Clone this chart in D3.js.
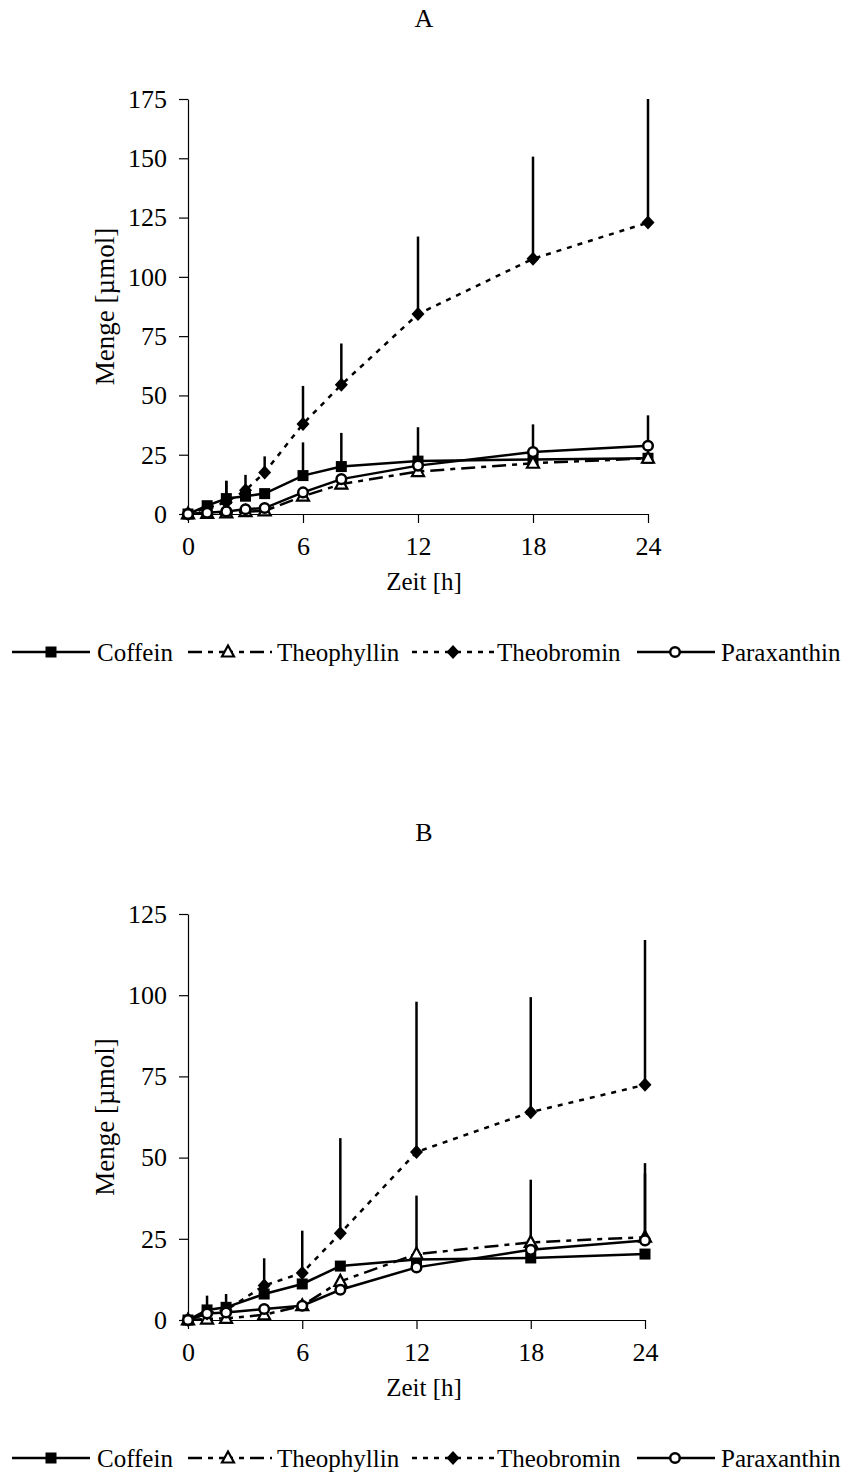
<!DOCTYPE html>
<html>
<head>
<meta charset="utf-8">
<script src="https://cdn.jsdelivr.net/npm/d3@7"></script>
<style>
  html, body { margin: 0; padding: 0; background: #fff; }
  svg { display: block; font-family: "Liberation Serif", "Times New Roman", serif; }
</style>
</head>
<body>
<div id="chart"></div>
<script>
// Ausscheidung der Methylxanthine, Panel A und B
const seriesNames = ["Coffein", "Theophyllin", "Theobromin", "Paraxanthin"];

// Panel A
const timesA = [0, 1, 2, 3, 4, 6, 8, 12, 18, 24];
const coffeinA     = [0, 3.5, 6.5, 7.5, 8.6, 16.2, 20.0, 22.3, 23.0, 23.5];
const theophyllinA = [0, 0.3, 0.5, 1.0, 1.3, 7.5, 12.6, 17.9, 21.4, 23.5];
const theobrominA  = [0, 2.5, 5.0, 10.0, 17.5, 38.0, 54.5, 84.3, 107.6, 122.9];
const paraxanthinA = [0, 0.5, 1.1, 2.0, 2.5, 9.1, 14.7, 20.4, 26.1, 28.8];
// upper error bars (+SD)
const coffeinErrA     = [0, 2, 7.5, 0, 0, 14, 14.2, 14.3, 0, 0];
const theophyllinErrA = [0, 0, 0, 0, 0, 0, 0, 0, 0, 0];
const theobrominErrA  = [0, 2, 9, 6.5, 6.8, 16, 17.4, 32.7, 43.1, 52.1];
const paraxanthinErrA = [0, 0, 0, 0, 0, 0, 0, 0, 11.7, 12.8];
const yTicksA = [0, 25, 50, 75, 100, 125, 150, 175];

// Panel B
const timesB = [0, 1, 2, 4, 6, 8, 12, 18, 24];
const coffeinB     = [0, 3.1, 3.9, 8.0, 11.1, 16.6, 18.6, 19.1, 20.3];
const theophyllinB = [0, 0.3, 0.5, 1.6, 4.4, 11.9, 20.3, 23.9, 25.5];
const theobrominB  = [0, 2.0, 3.0, 10.6, 14.5, 26.7, 51.7, 64.0, 72.4];
const paraxanthinB = [0, 2.0, 2.3, 3.4, 4.4, 9.3, 16.2, 21.6, 24.5];
const coffeinErrB     = [0, 4.4, 4.1, 0, 0, 0, 0, 0, 0];
const theophyllinErrB = [0, 0, 0, 0, 0, 0, 18, 19.3, 22.8];
const theobrominErrB  = [0, 0, 0, 8.4, 13, 29.3, 46.3, 35.4, 44.6];
const paraxanthinErrB = [0, 0, 0, 0, 0, 0, 0, 0, 20.7];
const yTicksB = [0, 25, 50, 75, 100, 125];

const xTicks = [0, 6, 12, 18, 24];

const W = 847, H = 1481;
const TICK_FONT = 26;
const FONT = 25;

// line style per series
const styles = {
  "Coffein":     { dash: null,         marker: "square" },
  "Theophyllin": { dash: "14,6,5,6",   marker: "triangle" },
  "Theobromin":  { dash: "5,6",        marker: "diamond" },
  "Paraxanthin": { dash: null,         marker: "circle" }
};

const svg = d3.select("#chart").append("svg")
  .attr("width", W).attr("height", H);
svg.append("rect").attr("width", W).attr("height", H).attr("fill", "#fff");

function drawMarker(g, type, cx, cy) {
  if (type === "square") {
    g.append("rect").attr("x", cx - 5.5).attr("y", cy - 5.5)
      .attr("width", 11).attr("height", 11).attr("fill", "#000");
  } else if (type === "triangle") {
    g.append("path")
      .attr("d", `M${cx},${cy - 6.5}L${cx + 6},${cy + 4.5}L${cx - 6},${cy + 4.5}Z`)
      .attr("fill", "#fff").attr("stroke", "#000").attr("stroke-width", 2.2);
  } else if (type === "diamond") {
    g.append("path")
      .attr("d", `M${cx},${cy - 7}L${cx + 6.5},${cy}L${cx},${cy + 7}L${cx - 6.5},${cy}Z`)
      .attr("fill", "#000");
  } else if (type === "circle") {
    g.append("circle").attr("cx", cx).attr("cy", cy).attr("r", 4.8)
      .attr("fill", "#fff").attr("stroke", "#000").attr("stroke-width", 2.5);
  }
}

function drawPanel(p) {
  const x = d3.scaleLinear().domain([0, 24]).range([p.left, p.right]);
  const y = d3.scaleLinear().domain([0, p.yMax]).range([p.bottom, p.top]);
  const g = svg.append("g");

  // title
  g.append("text").attr("x", 424).attr("y", p.titleY)
    .attr("text-anchor", "middle").attr("font-size", 26).text(p.title);

  // axes
  const yAxis = g.append("g").attr("transform", `translate(${p.left},0)`)
    .call(d3.axisLeft(y).tickValues(p.yTicks).tickSize(9).tickSizeOuter(0).tickPadding(12));
  const xAxis = g.append("g").attr("transform", `translate(0,${p.bottom})`)
    .call(d3.axisBottom(x).tickValues(xTicks).tickSize(9).tickSizeOuter(0));
  [yAxis, xAxis].forEach(a => {
    a.select(".domain").attr("stroke", "#000").attr("stroke-width", 1.2);
    a.selectAll(".tick line").attr("stroke", "#000").attr("stroke-width", 1.2);
    a.selectAll("text").attr("font-size", TICK_FONT).attr("fill", "#000")
      .attr("font-family", "Liberation Serif, Times New Roman, serif");
  });
  xAxis.selectAll("text").attr("dy", null).attr("y", 41);

  // axis titles
  g.append("text").attr("x", 424).attr("y", p.bottom + 76)
    .attr("text-anchor", "middle").attr("font-size", FONT).text("Zeit [h]");
  g.append("text")
    .attr("transform", `translate(114,${(p.top + p.bottom) / 2}) rotate(-90)`)
    .attr("text-anchor", "middle").attr("font-size", 27).text("Menge [µmol]");

  // series
  const line = d3.line().x(d => x(d.t)).y(d => y(d.v));
  p.series.forEach(s => {
    const pts = p.times.map((t, i) => ({ t, v: s.values[i], e: s.err[i] }));
    const st = styles[s.name];
    g.append("path").datum(pts).attr("d", line)
      .attr("fill", "none").attr("stroke", "#000").attr("stroke-width", 2.5)
      .attr("stroke-dasharray", st.dash);
    g.append("g").selectAll("line").data(pts.filter(d => d.e > 0)).join("line")
      .attr("x1", d => x(d.t)).attr("x2", d => x(d.t))
      .attr("y1", d => y(d.v)).attr("y2", d => y(d.v + d.e))
      .attr("stroke", "#000").attr("stroke-width", 2.5);
    const mg = g.append("g");
    pts.forEach(d => drawMarker(mg, st.marker, x(d.t), y(d.v)));
  });

  // legend
  const leg = [
    { name: "Coffein",     x1: 12,  x2: 90,  mx: 51,  tx: 97 },
    { name: "Theophyllin", x1: 188, x2: 272, mx: 228, tx: 277 },
    { name: "Theobromin",  x1: 412, x2: 494, mx: 453, tx: 497 },
    { name: "Paraxanthin", x1: 637, x2: 715, mx: 675, tx: 721 }
  ];
  const lg = g.append("g");
  leg.forEach(l => {
    const st = styles[l.name];
    lg.append("line").attr("x1", l.x1).attr("x2", l.x2)
      .attr("y1", p.legendY).attr("y2", p.legendY)
      .attr("stroke", "#000").attr("stroke-width", 2.5)
      .attr("stroke-dasharray", st.dash);
    drawMarker(lg, st.marker, l.mx, p.legendY);
    lg.append("text").attr("x", l.tx).attr("y", p.legendY + 9)
      .attr("font-size", FONT).text(l.name);
  });
}

drawPanel({
  title: "A", titleY: 27, left: 188, right: 648, top: 99, bottom: 514,
  yMax: 175, yTicks: yTicksA, times: timesA, legendY: 652,
  series: [
    { name: "Coffein",     values: coffeinA,     err: coffeinErrA },
    { name: "Theophyllin", values: theophyllinA, err: theophyllinErrA },
    { name: "Theobromin",  values: theobrominA,  err: theobrominErrA },
    { name: "Paraxanthin", values: paraxanthinA, err: paraxanthinErrA }
  ]
});

drawPanel({
  title: "B", titleY: 841, left: 188, right: 645, top: 914, bottom: 1320,
  yMax: 125, yTicks: yTicksB, times: timesB, legendY: 1458,
  series: [
    { name: "Coffein",     values: coffeinB,     err: coffeinErrB },
    { name: "Theophyllin", values: theophyllinB, err: theophyllinErrB },
    { name: "Theobromin",  values: theobrominB,  err: theobrominErrB },
    { name: "Paraxanthin", values: paraxanthinB, err: paraxanthinErrB }
  ]
});
</script>
</body>
</html>
